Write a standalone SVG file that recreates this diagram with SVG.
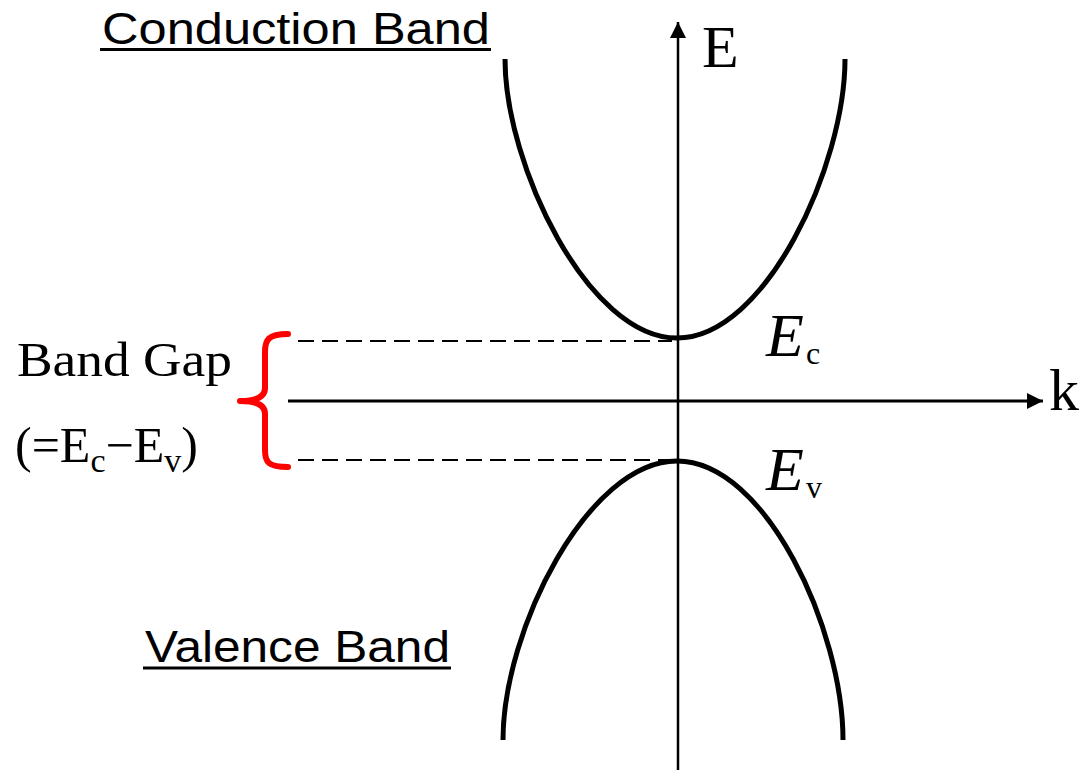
<svg xmlns="http://www.w3.org/2000/svg" width="1091" height="770" viewBox="0 0 1091 770">
<style>
.band{fill:none;stroke:#000;stroke-width:5}
.axis{fill:none;stroke:#000;stroke-width:2.5}
.dash{fill:none;stroke:#000;stroke-width:2;stroke-dasharray:16 8}
.sans{font-family:"Liberation Sans",Arial,sans-serif;fill:#000}
.serif{font-family:"Liberation Serif","Times New Roman",serif;fill:#000}
</style>
<defs>
<marker id="arr" viewBox="0 0 10 10" refX="10" refY="5" markerWidth="16" markerHeight="16" markerUnits="userSpaceOnUse" orient="auto">
<path d="M0,0 L10,5 L0,10 Z" fill="#000"/>
</marker>
</defs>
<rect width="1091" height="770" fill="#fff"/>
<g id="connectors">
<line class="axis" x1="678" y1="770" x2="678" y2="22" marker-end="url(#arr)"/>
<line class="axis" x1="288" y1="401" x2="1043" y2="401" marker-end="url(#arr)" style="stroke-width:3"/>
<line class="dash" x1="298" y1="341" x2="672" y2="341"/>
<line class="dash" x1="298" y1="460" x2="672" y2="460"/>
</g>
<g id="conduction-band">
<path class="band" d="M505,59 C505,165 588,338 677,338 C766,338 845,165 845,59"/>
<text class="sans" x="102" y="44" font-size="44" textLength="388" lengthAdjust="spacingAndGlyphs">Conduction Band</text>
<line x1="100" y1="49.5" x2="491" y2="49.5" stroke="#000" stroke-width="3"/>
</g>
<g id="valence-band">
<path class="band" d="M503,740 C503,630 588,461 677,461 C766,461 843,630 843,740"/>
<text class="sans" x="145" y="662" font-size="44" textLength="305" lengthAdjust="spacingAndGlyphs">Valence Band</text>
<line x1="143" y1="668" x2="451" y2="668" stroke="#000" stroke-width="3"/>
</g>
<g id="band-gap">
<path d="M288,334 C268,334 265,340 265,352 L265,388 C265,396 258,401 240,401 C258,401 265,406 265,414 L265,450 C265,462 268,467 288,467" fill="none" stroke="#f00" stroke-width="6" stroke-linecap="round" stroke-linejoin="round"/>
<text class="serif" x="17" y="376" font-size="48" textLength="215" lengthAdjust="spacingAndGlyphs">Band Gap</text>
<text class="serif" x="15" y="462" font-size="50">(=E<tspan font-size="34" dy="10">c</tspan><tspan dy="-10">−E</tspan><tspan font-size="34" dy="10">v</tspan><tspan dy="-10">)</tspan></text>
</g>
<g id="labels">
<text class="serif" x="702" y="67" font-size="60">E</text>
<text class="serif" x="1049" y="410" font-size="60">k</text>
<text class="serif" x="766" y="356" font-size="62" font-style="italic">E</text>
<text class="serif" x="806" y="364" font-size="32">c</text>
<text class="serif" x="766" y="490" font-size="62" font-style="italic">E</text>
<text class="serif" x="806" y="498" font-size="32">v</text>
</g>
</svg>
